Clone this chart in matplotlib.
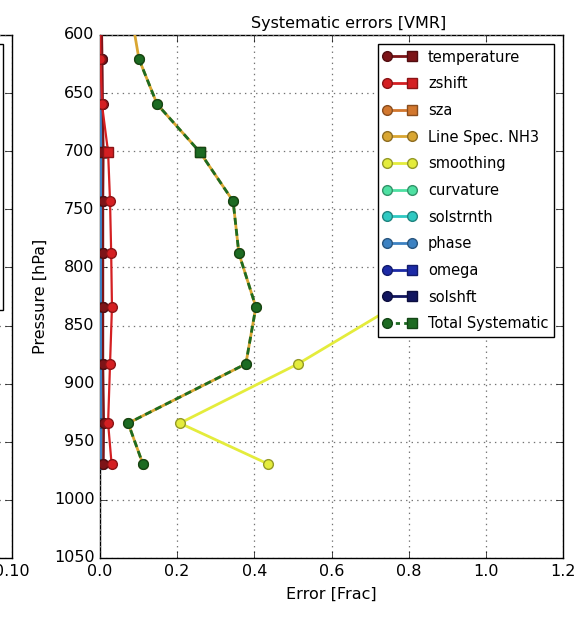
import numpy as np
import matplotlib
matplotlib.use("Agg")
import matplotlib.pyplot as plt
from matplotlib.lines import Line2D
from matplotlib.legend_handler import HandlerBase
from matplotlib.colors import to_rgb

plt.style.use('classic')
plt.rcParams['font.family'] = ['DejaVu Sans']
plt.rcParams['figure.facecolor'] = 'white'
plt.rcParams['savefig.facecolor'] = 'white'

# ---------------- data ----------------
pressure = [580, 620.7, 659.5, 700.8, 743, 788, 834, 883, 934, 969]

series_names = ['temperature', 'zshift', 'sza', 'Line Spec. NH3', 'smoothing',
                'curvature', 'solstrnth', 'phase', 'omega', 'solshft',
                'Total Systematic']

temperature = [0.004, 0.006, 0.007, 0.009, 0.008, 0.008, 0.008, 0.008, 0.010, 0.009]
zshift      = [0.000, 0.001, 0.005, 0.021, 0.026, 0.029, 0.031, 0.026, 0.021, 0.030]
sza         = [0.002, 0.003, 0.003, 0.004, 0.004, 0.004, 0.004, 0.004, 0.004, 0.004]
linespec    = [0.080, 0.101, 0.148, 0.259, 0.345, 0.360, 0.404, 0.378, 0.073, 0.111]
smoothing   = [np.nan, 0.880, 0.950, 1.020, 1.050, 0.980, 0.760, 0.513, 0.207, 0.435]
curvature   = [0.001, 0.001, 0.001, 0.002, 0.002, 0.002, 0.002, 0.002, 0.002, 0.002]
solstrnth   = [0.001, 0.001, 0.001, 0.001, 0.001, 0.001, 0.001, 0.001, 0.001, 0.001]
phase       = [0.001, 0.001, 0.002, 0.002, 0.002, 0.002, 0.002, 0.002, 0.002, 0.002]
omega       = [0.002, 0.003, 0.004, 0.005, 0.005, 0.005, 0.005, 0.005, 0.005, 0.005]
solshft     = [0.003, 0.005, 0.006, 0.007, 0.007, 0.007, 0.007, 0.007, 0.008, 0.008]
total_sys   = [np.nan, 0.101, 0.148, 0.259, 0.345, 0.360, 0.404, 0.378, 0.073, 0.111]

series_values = [temperature, zshift, sza, linespec, smoothing, curvature,
                 solstrnth, phase, omega, solshft, total_sys]

colors = ['#7d1418', '#d41f22', '#d2772e', '#d9a632', '#e4ec3c', '#4ee0a2',
          '#2fc9c2', '#3d82c2', '#1c2aa6', '#121660', '#1d6b22']
linestyles = ['-'] * 10 + ['--']
right_markers = ['s', 's', 's', 'o', 'o', 'o', 'o', 'o', 's', 's', 's']

x_ticks = [0.0, 0.2, 0.4, 0.6, 0.8, 1.0, 1.2]
y_ticks = [600, 650, 700, 750, 800, 850, 900, 950, 1000, 1050]

left_x_ticks = [0.0, 0.02, 0.04, 0.06, 0.08, 0.10]
left_legend_count = 10

# ---------------- figure ----------------
W, H = 580, 617
fig = plt.figure(figsize=(W / 100, H / 100), dpi=100)

ax_l0, ax_r0 = 100 / W, 563 / W
ax_b, ax_t = 1 - 558 / H, 1 - 35 / H
ax = fig.add_axes([ax_l0, ax_b, ax_r0 - ax_l0, ax_t - ax_b])

# partially visible left panel
lp_right = 12 / W
lp_w = ax_r0 - ax_l0
axL = fig.add_axes([lp_right - lp_w, ax_b, lp_w, ax_t - ax_b])


def darker(c, f=0.65):
    r, g, b = to_rgb(c)
    return (r * f, g * f, b * f)


order = [9, 8, 2, 5, 6, 7, 0, 1, 4, 3, 10]
handles = {}
for z, i in enumerate(order):
    lw = 2 if i in (3, 4, 10, 7) else 1.6
    ln, = ax.plot(series_values[i], pressure, color=colors[i], ls=linestyles[i],
                  lw=lw, marker='o', ms=7, mfc=colors[i], mec=darker(colors[i]),
                  mew=1, label=series_names[i], zorder=3 + z * 0.1)
    if i == 10:
        ln.set_dashes([5, 3])
    # square marker at the 700 hPa level
    ax.plot([series_values[i][3]], [pressure[3]], ls='none', marker='s', ms=7,
            mfc=colors[i], mec=darker(colors[i]), mew=1, zorder=3.05 + z * 0.1)
    handles[i] = ln


class CircleSquareHandler(HandlerBase):
    def __init__(self, right_marker):
        super().__init__()
        self.right_marker = right_marker

    def create_artists(self, legend, orig_handle, xdescent, ydescent, width,
                       height, fontsize, trans):
        y = height / 2.0 - ydescent
        x0 = -xdescent + 0.08 * width
        x1 = -xdescent + 0.92 * width
        c = orig_handle.get_color()
        line = Line2D([x0, x1], [y, y], color=c, lw=2,
                      ls=orig_handle.get_linestyle())
        if orig_handle.get_linestyle() == '--':
            line.set_dashes([3, 3])
        m1 = Line2D([x0], [y], ls='none', marker='o', ms=7, mfc=c,
                    mec=orig_handle.get_markeredgecolor(), mew=1)
        m2 = Line2D([x1], [y], ls='none', marker=self.right_marker, ms=7,
                    mfc=c, mec=orig_handle.get_markeredgecolor(), mew=1)
        for a in (line, m1, m2):
            a.set_transform(trans)
        return [line, m1, m2]


leg_handles = [handles[i] for i in range(11)]
hmap = {handles[i]: CircleSquareHandler(right_markers[i]) for i in range(11)}
leg = ax.legend(leg_handles, series_names, loc='upper right', fontsize=10.5,
                handler_map=hmap, handlelength=2.1, labelspacing=0.8,
                borderaxespad=0.6, borderpad=0.4, handletextpad=0.9,
                fancybox=False, frameon=True)
leg.get_frame().set_edgecolor('black')
leg.get_frame().set_linewidth(1.0)
leg.set_zorder(20)

ax.set_xlim(0, 1.2)
ax.set_ylim(1050, 600)
ax.set_xticks(x_ticks)
ax.set_yticks(y_ticks)
ax.xaxis.set_major_formatter(matplotlib.ticker.FormatStrFormatter('%.1f'))
ax.grid(True, ls=':', color='0.45', lw=0.9)
ax.tick_params(labelsize=11.5, direction='in', length=5, top=True, right=True)
ax.set_title('Systematic errors [VMR]', fontsize=11.5, x=0.538, pad=5)
ax.set_xlabel('Error [Frac]', fontsize=11.5, labelpad=6)
ax.set_ylabel('Pressure [hPa]', fontsize=11.5, labelpad=4)

# left panel (mostly off canvas)
axL.set_xlim(0, 0.10)
axL.set_ylim(1050, 600)
axL.set_xticks(left_x_ticks)
axL.set_xticklabels([''] * (len(left_x_ticks) - 1) + ['%.2f' % left_x_ticks[-1]])
axL.set_yticks(y_ticks)
axL.grid(True, ls=':', color='0.45', lw=0.9)
axL.tick_params(labelsize=11.5, direction='in', length=5, top=True, right=True,
                labelleft=False)
lh = [Line2D([], [], color='k', marker='o') for _ in range(left_legend_count)]
legL = axL.legend(lh, [''] * left_legend_count, loc='upper right', fontsize=10.5,
                  handlelength=2.1, labelspacing=0.8, borderaxespad=0.6,
                  borderpad=0.4, fancybox=False)
legL.get_frame().set_edgecolor('black')

fig.savefig('out.png', dpi=100)
